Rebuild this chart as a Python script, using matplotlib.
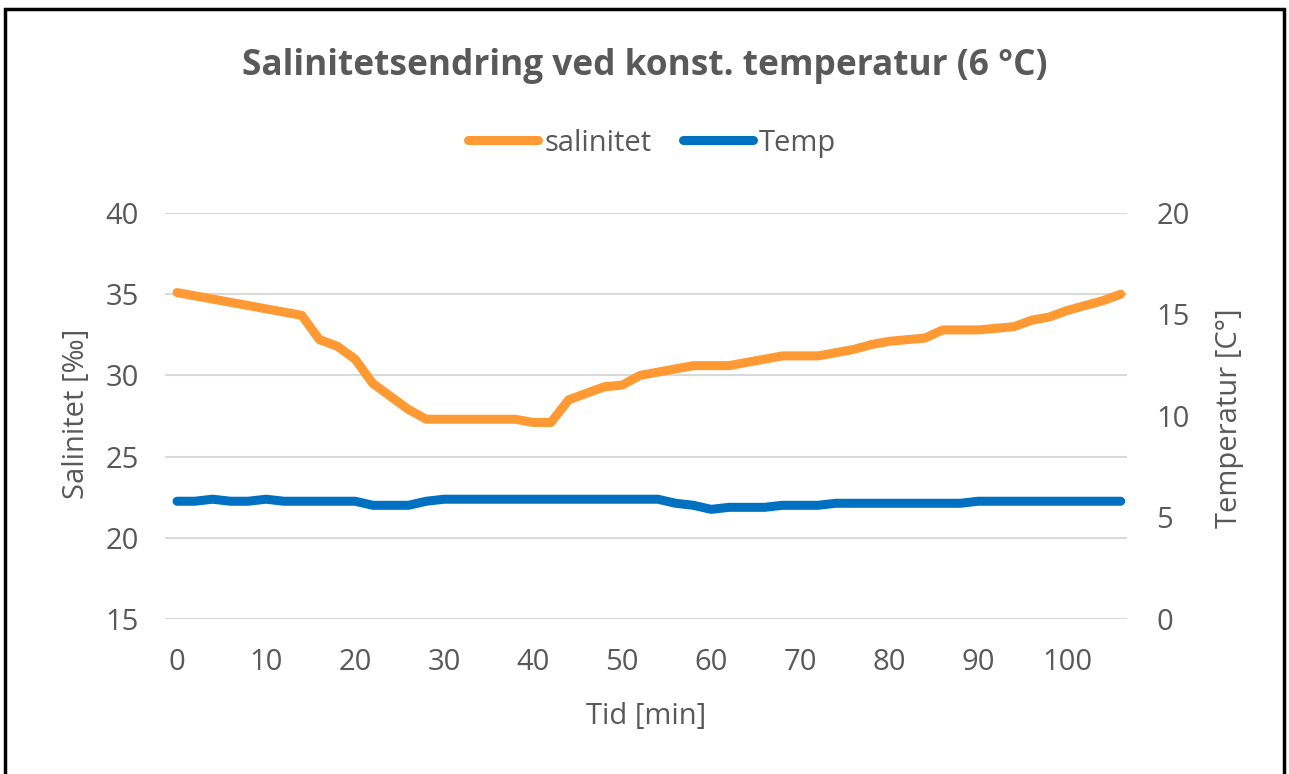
import matplotlib
matplotlib.use('Agg')
import numpy as np
import matplotlib.pyplot as plt
from matplotlib.patches import Rectangle

plt.rcParams['font.family'] = ['Open Sans', 'DejaVu Sans']

# tid i minutter (hvert 2. minutt)
tid = list(range(0, 108, 2))

salinitet = [35.1, 34.9, 34.7, 34.5, 34.3, 34.1, 33.9, 33.7, 32.2, 31.8,
             31.0, 29.5, 28.7, 27.9, 27.3, 27.3, 27.3, 27.3, 27.3, 27.3,
             27.1, 27.1, 28.5, 28.9, 29.3, 29.4, 30.0, 30.2, 30.4, 30.6,
             30.6, 30.6, 30.8, 31.0, 31.2, 31.2, 31.2, 31.4, 31.6, 31.9,
             32.1, 32.2, 32.3, 32.8, 32.8, 32.8, 32.9, 33.0, 33.4, 33.6,
             34.0, 34.3, 34.6, 35.0]

temp = [5.8, 5.8, 5.9, 5.8, 5.8, 5.9, 5.8, 5.8, 5.8, 5.8,
        5.8, 5.6, 5.6, 5.6, 5.8, 5.9, 5.9, 5.9, 5.9, 5.9,
        5.9, 5.9, 5.9, 5.9, 5.9, 5.9, 5.9, 5.9, 5.7, 5.6,
        5.4, 5.5, 5.5, 5.5, 5.6, 5.6, 5.6, 5.7, 5.7, 5.7,
        5.7, 5.7, 5.7, 5.7, 5.7, 5.8, 5.8, 5.8, 5.8, 5.8,
        5.8, 5.8, 5.8, 5.8]

grey = '#595959'
orange = '#FF9933'
blue = '#0070C0'

fig = plt.figure(figsize=(12.89, 7.74), dpi=100)
ax = fig.add_axes([0.128, 0.2003, 0.7463, 0.5245])
ax2 = ax.twinx()

# ramme rundt figuren
fig.patches.append(Rectangle((0.004, -0.01), 0.992, 0.999, transform=fig.transFigure,
                             fill=False, edgecolor='black', linewidth=2.5))

l1, = ax.plot(tid, salinitet, color=orange, lw=6.5, solid_joinstyle='round',
              solid_capstyle='round', label='salinitet', zorder=3)
l2, = ax2.plot(tid, temp, color=blue, lw=6.5, solid_joinstyle='round',
               solid_capstyle='round', label='Temp', zorder=3)

ax.set_xlim(-1.35, 106.7)
ax.set_ylim(15, 40)
ax2.set_ylim(0, 20)
ax.set_xticks(range(0, 101, 10))
ax.set_yticks(range(15, 41, 5))
ax2.set_yticks(range(0, 21, 5))

ax.grid(axis='y', color='#d9d9d9', lw=1.5)
ax.set_axisbelow(True)
for a in (ax, ax2):
    for s in a.spines.values():
        s.set_visible(False)
    a.tick_params(length=0, labelsize=21, colors=grey)
ax.tick_params(axis='x', pad=21)
ax.tick_params(axis='y', pad=19)
ax2.tick_params(axis='y', pad=21)

ax.set_xlabel('Tid [min]', fontsize=21, color=grey)
ax.set_ylabel('Salinitet [‰]', fontsize=21, color=grey)
ax2.set_ylabel('Temperatur [C°]', fontsize=21, color=grey)
ax.xaxis.set_label_coords(0.5, -0.205)
ax.yaxis.set_label_coords(-0.077, 0.505)
ax2.yaxis.set_label_coords(1.091, 0.495)

fig.text(0.5, 0.915, 'Salinitetsendring ved konst. temperatur (6 °C)',
         ha='center', va='center', fontsize=25.4, fontweight='bold', color=grey)

fig.legend([l1, l2], ['salinitet', 'Temp'], loc='center', bbox_to_anchor=(0.506, 0.815),
           ncol=2, frameon=False, fontsize=21, handlelength=2.4, handletextpad=0.2,
           columnspacing=1.1, labelcolor=grey)

fig.savefig('out.png', dpi=100)
